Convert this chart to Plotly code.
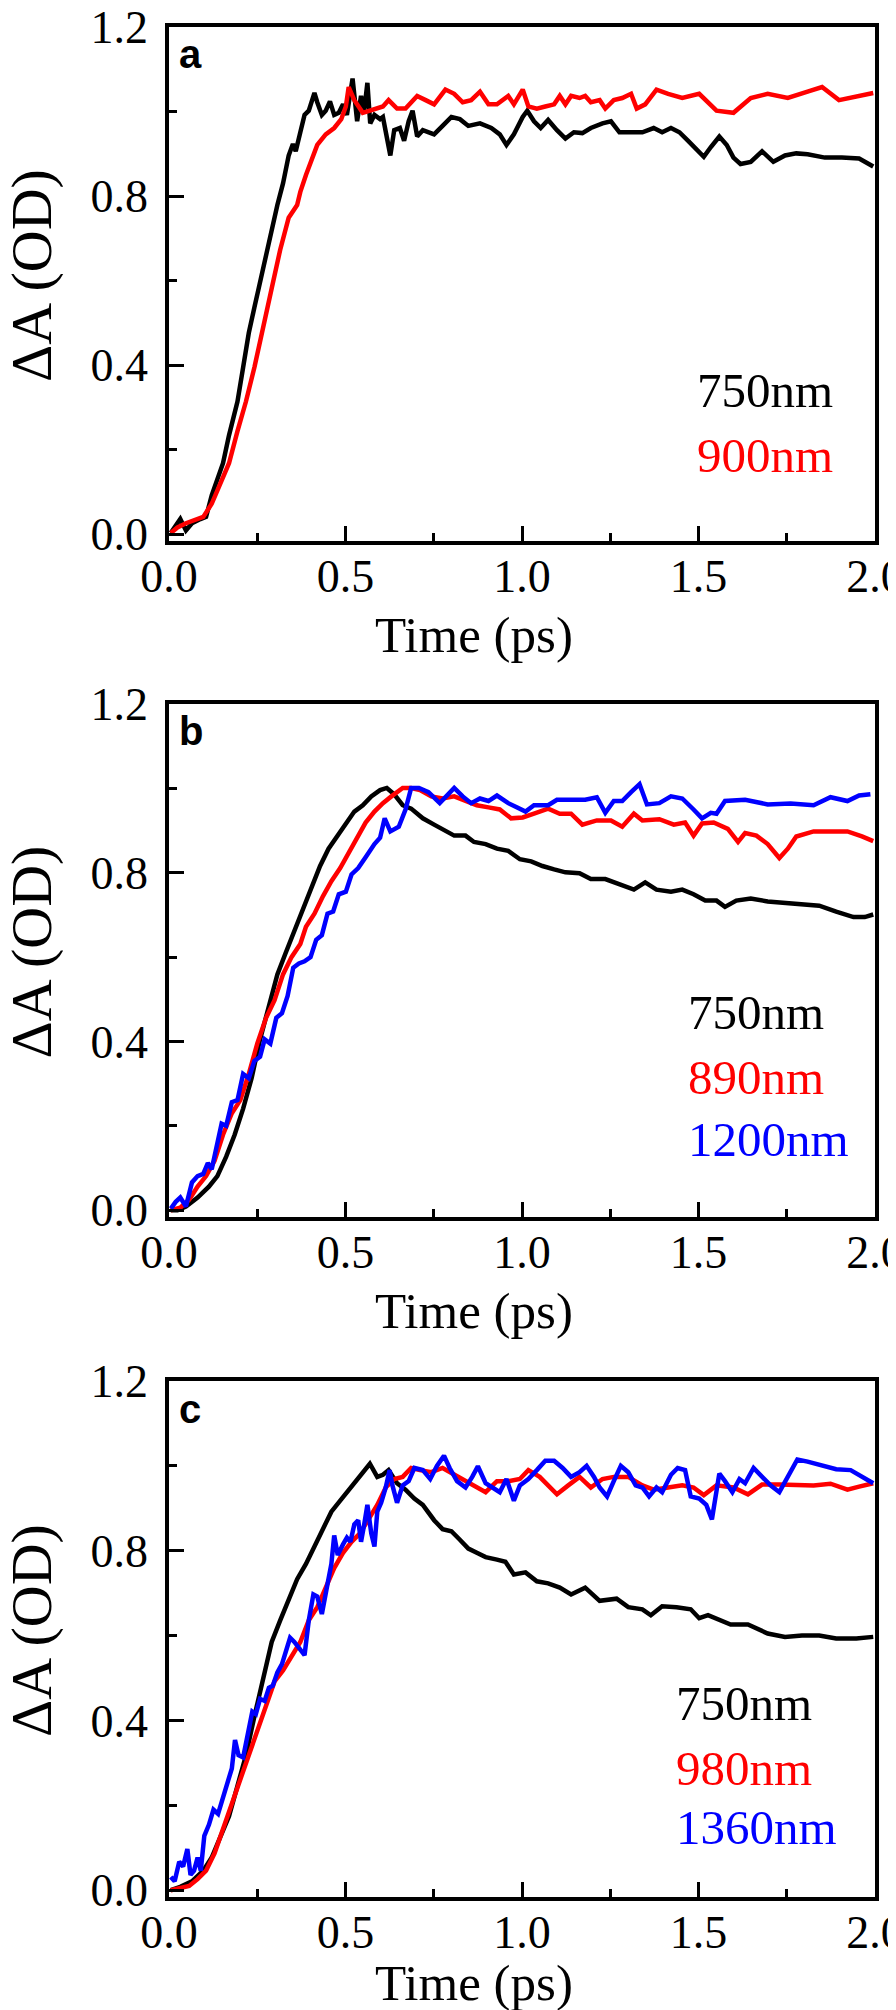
import plotly.graph_objects as go

# ---------------- Panel a ----------------
a_750_t = [0.005,0.032,0.048,0.065,0.089,0.105,0.121,0.137,0.153,0.170,0.194,0.210,0.226,0.242,0.258,0.275,0.291,0.307,0.323,0.339,0.351,0.359,0.372,0.384,0.396,0.412,0.420,0.433,0.444,0.456,0.468,0.481,0.493,0.504,0.520,0.533,0.544,0.553,0.562,0.570,0.582,0.598,0.606,0.617,0.627,0.638,0.654,0.666,0.679,0.690,0.703,0.719,0.735,0.751,0.775,0.800,0.824,0.848,0.881,0.913,0.937,0.956,0.977,1.002,1.015,1.034,1.053,1.074,1.099,1.123,1.147,1.171,1.195,1.228,1.252,1.276,1.309,1.341,1.373,1.397,1.422,1.446,1.470,1.494,1.515,1.535,1.559,1.580,1.599,1.619,1.648,1.680,1.712,1.745,1.777,1.809,1.858,1.906,1.955,1.995]
a_750_v = [0.003,0.036,0.009,0.026,0.036,0.041,0.092,0.132,0.168,0.234,0.314,0.395,0.476,0.537,0.597,0.663,0.719,0.779,0.830,0.896,0.923,0.906,0.951,0.992,1.002,1.044,1.022,0.992,1.002,1.024,0.992,0.997,1.017,0.992,1.078,0.977,1.037,1.002,1.068,0.972,0.992,0.982,0.987,0.941,0.896,0.956,0.961,0.931,0.977,1.002,0.941,0.956,0.951,0.946,0.966,0.987,0.982,0.966,0.972,0.961,0.946,0.921,0.946,0.987,1.002,0.977,0.961,0.980,0.956,0.936,0.951,0.949,0.961,0.972,0.977,0.951,0.951,0.951,0.961,0.951,0.961,0.951,0.931,0.911,0.893,0.916,0.941,0.921,0.891,0.876,0.881,0.906,0.881,0.896,0.901,0.899,0.891,0.891,0.889,0.870]

a_900_t = [0.005,0.024,0.048,0.073,0.097,0.121,0.145,0.170,0.194,0.218,0.242,0.267,0.291,0.315,0.339,0.363,0.372,0.388,0.404,0.420,0.444,0.468,0.488,0.501,0.509,0.525,0.549,0.582,0.606,0.622,0.646,0.670,0.703,0.727,0.751,0.783,0.808,0.832,0.856,0.881,0.905,0.929,0.961,0.977,1.002,1.018,1.042,1.066,1.091,1.107,1.123,1.139,1.163,1.179,1.195,1.220,1.236,1.260,1.284,1.309,1.325,1.349,1.381,1.414,1.454,1.502,1.551,1.599,1.648,1.696,1.753,1.809,1.850,1.898,1.955,1.995]
a_900_v = [0.003,0.016,0.026,0.033,0.041,0.072,0.117,0.168,0.244,0.314,0.395,0.486,0.582,0.673,0.749,0.779,0.810,0.850,0.886,0.921,0.946,0.961,0.982,1.012,1.058,1.027,0.997,1.007,1.012,1.027,1.007,1.007,1.037,1.027,1.017,1.052,1.042,1.022,1.027,1.047,1.017,1.017,1.037,1.017,1.052,1.012,1.007,1.012,1.017,1.037,1.017,1.037,1.032,1.037,1.022,1.027,1.007,1.027,1.032,1.042,1.007,1.017,1.052,1.042,1.032,1.042,1.002,0.997,1.032,1.042,1.032,1.047,1.058,1.027,1.037,1.044]

# ---------------- Panel b ----------------
b_750_t = [0.005,0.024,0.048,0.081,0.113,0.137,0.162,0.186,0.210,0.234,0.258,0.283,0.307,0.331,0.355,0.380,0.404,0.428,0.452,0.477,0.501,0.525,0.549,0.573,0.598,0.617,0.638,0.662,0.686,0.719,0.751,0.783,0.808,0.840,0.864,0.897,0.929,0.961,0.994,1.026,1.058,1.091,1.123,1.163,1.195,1.236,1.276,1.317,1.349,1.381,1.422,1.454,1.486,1.519,1.551,1.575,1.607,1.648,1.696,1.745,1.801,1.842,1.890,1.939,1.971,1.995]
b_750_v = [0.0,0.0,0.009,0.030,0.056,0.081,0.127,0.179,0.241,0.313,0.405,0.487,0.559,0.611,0.662,0.713,0.765,0.816,0.857,0.888,0.914,0.945,0.960,0.981,0.996,1.001,0.986,0.960,0.952,0.929,0.914,0.898,0.888,0.888,0.873,0.868,0.857,0.852,0.832,0.827,0.816,0.808,0.801,0.799,0.785,0.785,0.773,0.760,0.777,0.760,0.755,0.760,0.749,0.734,0.734,0.719,0.734,0.739,0.732,0.728,0.726,0.722,0.708,0.695,0.695,0.701]

b_890_t = [0.005,0.032,0.057,0.081,0.105,0.129,0.153,0.178,0.202,0.226,0.250,0.275,0.299,0.323,0.347,0.372,0.388,0.412,0.436,0.460,0.485,0.509,0.533,0.557,0.582,0.606,0.630,0.662,0.686,0.711,0.743,0.775,0.808,0.840,0.872,0.905,0.937,0.969,1.002,1.034,1.074,1.107,1.139,1.171,1.212,1.252,1.284,1.317,1.341,1.389,1.430,1.462,1.486,1.510,1.543,1.583,1.612,1.632,1.664,1.696,1.729,1.753,1.777,1.826,1.874,1.922,1.963,1.995]
b_890_v = [0.0,0.006,0.025,0.056,0.081,0.117,0.179,0.230,0.261,0.323,0.395,0.456,0.498,0.559,0.600,0.631,0.672,0.703,0.744,0.780,0.811,0.847,0.888,0.919,0.945,0.965,0.981,1.001,1.001,0.996,0.981,0.976,0.981,0.970,0.960,0.955,0.950,0.929,0.931,0.940,0.952,0.940,0.940,0.914,0.924,0.924,0.909,0.940,0.924,0.927,0.914,0.919,0.888,0.917,0.919,0.904,0.873,0.894,0.888,0.868,0.835,0.857,0.886,0.898,0.898,0.898,0.886,0.875]

b_1200_t = [0.005,0.019,0.032,0.048,0.065,0.081,0.097,0.110,0.121,0.132,0.149,0.162,0.178,0.194,0.210,0.226,0.242,0.258,0.271,0.287,0.304,0.320,0.336,0.352,0.368,0.384,0.401,0.417,0.433,0.449,0.465,0.481,0.501,0.517,0.536,0.557,0.582,0.598,0.611,0.627,0.651,0.670,0.686,0.708,0.735,0.767,0.792,0.808,0.832,0.856,0.881,0.905,0.929,0.961,0.985,1.010,1.034,1.074,1.099,1.139,1.179,1.212,1.236,1.260,1.284,1.309,1.333,1.354,1.389,1.422,1.454,1.486,1.510,1.535,1.551,1.575,1.632,1.696,1.761,1.826,1.874,1.922,1.955,1.987]
b_1200_v = [0.004,0.020,0.030,0.009,0.066,0.081,0.086,0.112,0.097,0.138,0.205,0.200,0.256,0.261,0.323,0.313,0.354,0.364,0.405,0.395,0.456,0.467,0.508,0.575,0.585,0.590,0.600,0.641,0.652,0.703,0.708,0.749,0.755,0.796,0.811,0.837,0.868,0.883,0.929,0.898,0.909,0.950,1.001,1.001,0.991,0.965,0.986,1.001,0.981,0.965,0.976,0.970,0.983,0.965,0.955,0.945,0.960,0.960,0.973,0.973,0.973,0.979,0.942,0.970,0.970,0.991,1.010,0.962,0.965,0.981,0.976,0.950,0.929,0.942,0.940,0.970,0.973,0.962,0.964,0.960,0.979,0.970,0.983,0.986]

# ---------------- Panel c ----------------
c_750_t = [0.005,0.032,0.065,0.097,0.121,0.145,0.170,0.194,0.218,0.242,0.267,0.291,0.315,0.339,0.363,0.388,0.412,0.436,0.460,0.485,0.509,0.533,0.557,0.569,0.590,0.606,0.622,0.646,0.670,0.695,0.719,0.751,0.775,0.800,0.824,0.848,0.872,0.897,0.929,0.953,0.977,1.010,1.042,1.074,1.107,1.139,1.179,1.220,1.268,1.301,1.341,1.365,1.397,1.438,1.478,1.502,1.527,1.567,1.591,1.640,1.696,1.745,1.793,1.842,1.890,1.947,1.995]
c_750_v = [0.0,0.008,0.021,0.046,0.077,0.123,0.174,0.246,0.318,0.410,0.503,0.585,0.636,0.687,0.733,0.769,0.810,0.856,0.892,0.918,0.944,0.969,0.995,1.005,0.974,0.979,0.990,0.959,0.944,0.923,0.908,0.872,0.851,0.846,0.826,0.805,0.795,0.785,0.779,0.774,0.744,0.749,0.728,0.723,0.713,0.697,0.713,0.682,0.687,0.667,0.662,0.648,0.669,0.667,0.662,0.641,0.648,0.636,0.626,0.626,0.605,0.597,0.600,0.600,0.593,0.593,0.597]

c_980_t = [0.005,0.032,0.057,0.081,0.105,0.129,0.153,0.178,0.202,0.226,0.250,0.275,0.299,0.323,0.347,0.372,0.396,0.420,0.444,0.468,0.493,0.517,0.541,0.565,0.590,0.614,0.638,0.662,0.686,0.711,0.743,0.775,0.808,0.832,0.864,0.897,0.929,0.961,0.994,1.018,1.050,1.074,1.099,1.131,1.163,1.195,1.228,1.260,1.301,1.341,1.373,1.414,1.454,1.486,1.515,1.551,1.599,1.640,1.680,1.729,1.777,1.826,1.874,1.922,1.955,1.995]
c_980_v = [0.0,0.005,0.010,0.026,0.046,0.087,0.144,0.205,0.267,0.318,0.379,0.441,0.492,0.518,0.549,0.585,0.636,0.667,0.713,0.759,0.795,0.821,0.841,0.872,0.908,0.949,0.969,0.974,0.995,0.990,0.985,0.995,0.979,0.969,0.954,0.938,0.964,0.964,0.969,0.990,0.974,0.954,0.933,0.954,0.974,0.949,0.969,0.974,0.974,0.954,0.944,0.949,0.954,0.949,0.931,0.954,0.949,0.933,0.956,0.956,0.954,0.954,0.958,0.944,0.951,0.959]

c_1360_t = [0.005,0.016,0.029,0.040,0.052,0.061,0.071,0.081,0.090,0.100,0.113,0.126,0.139,0.152,0.165,0.178,0.187,0.197,0.210,0.223,0.236,0.246,0.258,0.271,0.283,0.294,0.307,0.320,0.331,0.343,0.355,0.372,0.384,0.396,0.409,0.420,0.433,0.446,0.460,0.468,0.478,0.493,0.504,0.514,0.525,0.536,0.544,0.553,0.562,0.573,0.582,0.590,0.601,0.614,0.625,0.633,0.646,0.662,0.679,0.695,0.719,0.740,0.759,0.779,0.795,0.816,0.840,0.859,0.875,0.897,0.918,0.937,0.956,0.977,0.994,1.018,1.042,1.066,1.091,1.115,1.139,1.163,1.183,1.204,1.220,1.241,1.260,1.280,1.301,1.322,1.341,1.360,1.381,1.397,1.422,1.441,1.462,1.478,1.502,1.522,1.538,1.559,1.575,1.596,1.616,1.632,1.656,1.680,1.704,1.729,1.753,1.780,1.809,1.850,1.890,1.931,1.963,1.995]
c_1360_v = [0.031,0.021,0.067,0.056,0.097,0.036,0.046,0.077,0.046,0.128,0.154,0.190,0.180,0.215,0.256,0.287,0.354,0.318,0.313,0.374,0.421,0.415,0.451,0.446,0.477,0.482,0.513,0.533,0.559,0.595,0.585,0.569,0.554,0.636,0.697,0.692,0.651,0.708,0.769,0.836,0.790,0.815,0.831,0.821,0.862,0.872,0.821,0.862,0.908,0.841,0.810,0.892,0.913,0.949,0.990,0.954,0.913,0.954,0.964,0.995,0.990,0.969,1.000,1.024,0.995,0.964,0.949,0.974,0.999,0.959,0.949,0.938,0.969,0.918,0.954,0.969,0.990,1.012,1.012,0.995,0.974,0.985,1.000,0.974,0.949,0.928,0.964,1.000,0.985,0.954,0.949,0.928,0.949,0.938,0.979,0.995,0.990,0.928,0.923,0.908,0.874,0.982,0.964,0.938,0.969,0.959,0.995,0.974,0.954,0.938,0.974,1.015,1.010,1.000,0.992,0.990,0.974,0.959]

x_ticks = [0.0, 0.5, 1.0, 1.5, 2.0]
y_ticks = [0.0, 0.4, 0.8, 1.2]
panel_letters = ["a", "b", "c"]
x_title = "Time (ps)"
y_title = "ΔA (OD)"

panels = [
    [("750nm", a_750_t, a_750_v, "#000000"), ("900nm", a_900_t, a_900_v, "#ff0000")],
    [("750nm", b_750_t, b_750_v, "#000000"), ("890nm", b_890_t, b_890_v, "#ff0000"),
     ("1200nm", b_1200_t, b_1200_v, "#0000ff")],
    [("750nm", c_750_t, c_750_v, "#000000"), ("980nm", c_980_t, c_980_v, "#ff0000"),
     ("1360nm", c_1360_t, c_1360_v, "#0000ff")],
]
label_pos = [
    (1.49, [0.341, 0.187]),
    (1.465, [0.469, 0.315, 0.168]),
    (1.43, [0.439, 0.287, 0.147]),
]

W, H = 896, 2010
T, B, L, R = 19, 121, 161, 29
ph = H - T - B
pw = W - L - R
def dom(top_px, bot_px):
    return [1 - (bot_px - T) / ph, 1 - (top_px - T) / ph]
def py(px_y):
    return 1 - (px_y - T) / ph
def px(px_x):
    return (px_x - L) / pw
panel_px = [(19, 533), (696, 1209), (1373, 1889)]
title_off = [94, 94, 86]
domains = [dom(a, b) for a, b in panel_px]

SERIF = "Liberation Serif, Times New Roman, serif"
fig = go.Figure()
layout = dict(width=W, height=H, margin=dict(l=L, r=R, t=T, b=B, autoexpand=False),
              plot_bgcolor="white", paper_bgcolor="white", showlegend=False,
              font=dict(family=SERIF, color="black"))
annotations = []
for i, series in enumerate(panels):
    n = "" if i == 0 else str(i + 1)
    xa, ya = "x" + n, "y" + n
    for name, t, v, col in series:
        fig.add_trace(go.Scatter(x=t, y=v, mode="lines", name=name, xaxis=xa, yaxis=ya,
                                 line=dict(color=col, width=4.5)))
    axcommon = dict(showline=True, linecolor="black", linewidth=3.5, mirror=True,
                    showgrid=False, zeroline=False, ticks="inside", tickwidth=3,
                    automargin=False, ticklabeloverflow="allow",
                    tickcolor="black", tickfont=dict(family=SERIF, size=46, color="black"))
    layout["xaxis" + n] = dict(axcommon, domain=[0, 1], anchor=ya, range=[0, 2.0],
                               tickvals=x_ticks, ticktext=[f"{v:.1f}" for v in x_ticks],
                               ticklen=15, ticklabelstandoff=-8,
                               minor=dict(ticks="inside", ticklen=8, tickwidth=3, dtick=0.25,
                                          tick0=0, tickcolor="black", showgrid=False))
    layout["yaxis" + n] = dict(axcommon, domain=domains[i], anchor=xa, range=[-0.016, 1.2],
                               tickvals=y_ticks, ticktext=[f"{v:.1f}" for v in y_ticks],
                               ticklen=15, ticklabelstandoff=8,
                               minor=dict(ticks="inside", ticklen=8, tickwidth=3, dtick=0.2,
                                          tick0=0, tickcolor="black", showgrid=False))
    top_px, bot_px = panel_px[i]
    # axis titles
    annotations.append(dict(x=px(466), y=py(bot_px + title_off[i]), xref="paper", yref="paper",
                            text=x_title, showarrow=False, xanchor="center", yanchor="middle",
                            font=dict(family=SERIF, size=51, color="black")))
    annotations.append(dict(x=px(23), y=py((top_px + bot_px) / 2 - 8), xref="paper", yref="paper",
                            text=y_title, textangle=-90, showarrow=False,
                            xanchor="center", yanchor="middle",
                            font=dict(family=SERIF, size=58, color="black")))
    annotations.append(dict(x=0.022, y=1.135, xref=xa, yref=ya, text="<b>" + panel_letters[i] + "</b>",
                            showarrow=False, xanchor="left", yanchor="middle",
                            font=dict(family="Liberation Sans, Arial, sans-serif", size=40, color="black")))
    lx, lys = label_pos[i]
    for (name, t, v, col), ly in zip(series, lys):
        annotations.append(dict(x=lx, y=ly, xref=xa, yref=ya, text=name, showarrow=False,
                                xanchor="left", yanchor="middle",
                                font=dict(family=SERIF, size=49, color=col)))
layout["annotations"] = annotations
fig.update_layout(**layout)
fig.write_html("out.html")
